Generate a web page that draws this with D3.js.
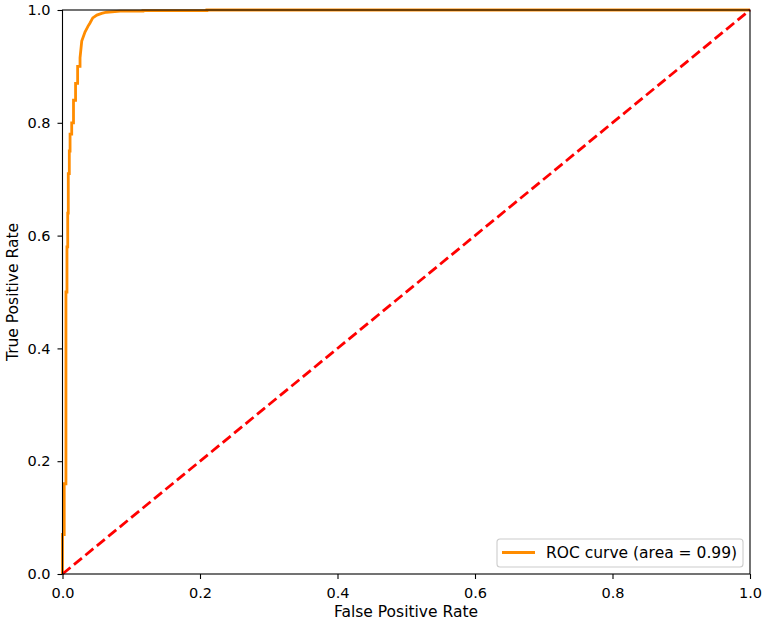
<!DOCTYPE html>
<html>
  <head>
    <meta charset="utf-8">
    <script src="https://d3js.org/d3.v7.min.js" charset="utf-8"></script>
    <style>
      body { margin: 0; background: #fff; }
      text { font-family: "DejaVu Sans", sans-serif; }
    </style>
  </head>
  <body>
    <script type="text/javascript">

// ROC curve
var fpr = [0, 0, 0.0025, 0.0025, 0.005, 0.005, 0.0065, 0.0065, 0.0076, 0.0076, 0.0084, 0.0084, 0.0099, 0.0099,
           0.011, 0.011, 0.0134, 0.0134, 0.016, 0.016, 0.019, 0.019, 0.022, 0.022, 0.0255, 0.0255,
           0.028, 0.0327, 0.037, 0.040, 0.044, 0.050, 0.057, 0.064, 0.084, 0.117, 0.117, 0.21, 0.21, 1];
var tpr = [0, 0.07, 0.07, 0.16, 0.16, 0.50, 0.50, 0.58, 0.58, 0.64, 0.64, 0.71, 0.71, 0.75,
           0.75, 0.78, 0.78, 0.80, 0.80, 0.84, 0.84, 0.87, 0.87, 0.90, 0.90, 0.915,
           0.945, 0.961, 0.971, 0.977, 0.986, 0.991, 0.994, 0.996, 0.998, 0.998, 0.999, 0.999, 1, 1];
var chance = [0, 1];
var ticks = [0, 0.2, 0.4, 0.6, 0.8, 1.0];
var legendLabel = "ROC curve (area = 0.99)";
var xLabel = "False Positive Rate";
var yLabel = "True Positive Rate";

var w = 765, h = 623;
var m = { left: 62.5, right: 750, top: 10, bottom: 574 };

var svg = d3.select("body").append("svg")
    .attr("width", w)
    .attr("height", h);

var x = d3.scaleLinear().domain([0, 1]).range([m.left, m.right]);
var y = d3.scaleLinear().domain([0, 1]).range([m.bottom, m.top]);

var roc = fpr.map(function(d, i) { return [d, tpr[i]]; });

var line = d3.line()
    .x(function(d) { return x(d[0]); })
    .y(function(d) { return y(d[1]); });

svg.append("path")
    .datum(roc)
    .attr("d", line)
    .attr("fill", "none")
    .attr("stroke", "#ff8c00")
    .attr("stroke-width", 2.8);

svg.append("path")
    .datum(chance.map(function(d) { return [d, d]; }))
    .attr("d", line)
    .attr("fill", "none")
    .attr("stroke", "#ff0000")
    .attr("stroke-width", 2.8)
    .attr("stroke-dasharray", "10.3,4.5");

// axes
var xAxis = svg.append("g")
    .attr("transform", "translate(0," + m.bottom + ")")
    .call(d3.axisBottom(x).tickValues(ticks).tickFormat(d3.format(".1f"))
      .tickSize(5).tickPadding(8.5).tickSizeOuter(0));
var yAxis = svg.append("g")
    .attr("transform", "translate(" + m.left + ",0)")
    .call(d3.axisLeft(y).tickValues(ticks).tickFormat(d3.format(".1f"))
      .tickSize(5).tickPadding(7).tickSizeOuter(0));

[xAxis, yAxis].forEach(function(g) {
  g.select(".domain").remove();
  g.selectAll("line").attr("stroke", "#000").attr("stroke-width", 1.1);
  g.selectAll("text").attr("font-size", 14.5).attr("font-family", "DejaVu Sans").attr("fill", "#000");
});

// frame
svg.append("rect")
    .attr("x", m.left).attr("y", m.top)
    .attr("width", m.right - m.left).attr("height", m.bottom - m.top)
    .attr("fill", "none")
    .attr("stroke", "#000")
    .attr("stroke-width", 1.1);

svg.append("text")
    .attr("x", 406)
    .attr("y", 617)
    .attr("text-anchor", "middle")
    .attr("font-size", 15.5)
    .text(xLabel);

svg.append("text")
    .attr("transform", "translate(17.5,292) rotate(-90)")
    .attr("text-anchor", "middle")
    .attr("font-size", 15.5)
    .text(yLabel);

// legend
var lg = svg.append("g").attr("transform", "translate(497,539)");
lg.append("rect")
    .attr("width", 246).attr("height", 28)
    .attr("rx", 3).attr("ry", 3)
    .attr("fill", "#fff").attr("fill-opacity", 0.8)
    .attr("stroke", "#cccccc").attr("stroke-width", 1.1);
lg.append("line")
    .attr("x1", 5).attr("x2", 38).attr("y1", 13.5).attr("y2", 13.5)
    .attr("stroke", "#ff8c00").attr("stroke-width", 2.8);
lg.append("text")
    .attr("x", 49).attr("y", 19)
    .attr("font-size", 15.5)
    .text(legendLabel);

    </script>
  </body>
</html>
